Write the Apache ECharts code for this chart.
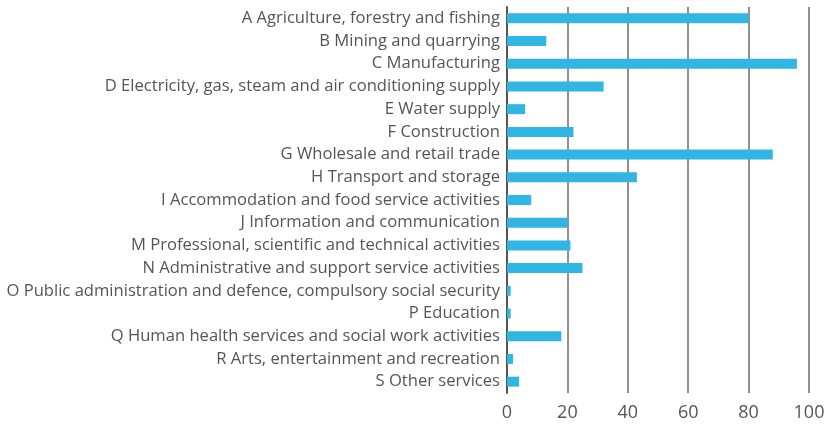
<!DOCTYPE html>
<html>
<head>
<meta charset="utf-8">
<script src="https://cdn.jsdelivr.net/npm/echarts@6/dist/echarts.min.js"></script>
<style>
  html, body { margin: 0; padding: 0; background: #fff; }
  #main { width: 829px; height: 424px; }
</style>
</head>
<body>
<div id="main"></div>
<script>
// sectors, top to bottom
let sectors = [
    'A Agriculture, forestry and fishing',
    'B Mining and quarrying',
    'C Manufacturing',
    'D Electricity, gas, steam and air conditioning supply',
    'E Water supply',
    'F Construction',
    'G Wholesale and retail trade',
    'H Transport and storage',
    'I Accommodation and food service activities',
    'J Information and communication',
    'M Professional, scientific and technical activities',
    'N Administrative and support service activities',
    'O Public administration and defence, compulsory social security',
    'P Education',
    'Q Human health services and social work activities',
    'R Arts, entertainment and recreation',
    'S Other services'
];
let values = [80, 13, 96, 32, 6, 22, 88, 43, 8, 20, 21, 25, 1.2, 1.2, 18, 2, 4];

let dom = document.getElementById('main');
let myChart = echarts.init(dom);

let option = {
    animation: false,
    grid: { left: 507, right: 20, top: 7, bottom: 31 },
    xAxis: {
        type: 'value',
        min: 0,
        max: 100,
        interval: 20,
        axisLine: { show: false },
        axisTick: { show: false },
        axisLabel: { color: '#555', fontSize: 18, fontFamily: 'Open Sans', margin: 11 },
        splitLine: { lineStyle: { color: '#6b6b6b', width: 1.5 } }
    },
    yAxis: {
        type: 'category',
        data: sectors,
        inverse: true,
        axisLine: { lineStyle: { color: '#555', width: 2 } },
        axisTick: { show: false },
        axisLabel: { color: '#555', fontSize: 16.6, fontFamily: 'Open Sans', margin: 7 }
    },
    series: [{
        type: 'bar',
        data: values,
        barWidth: 10,
        itemStyle: { color: '#31b5e3' }
    }]
};

myChart.setOption(option, true);
</script>
</body>
</html>
